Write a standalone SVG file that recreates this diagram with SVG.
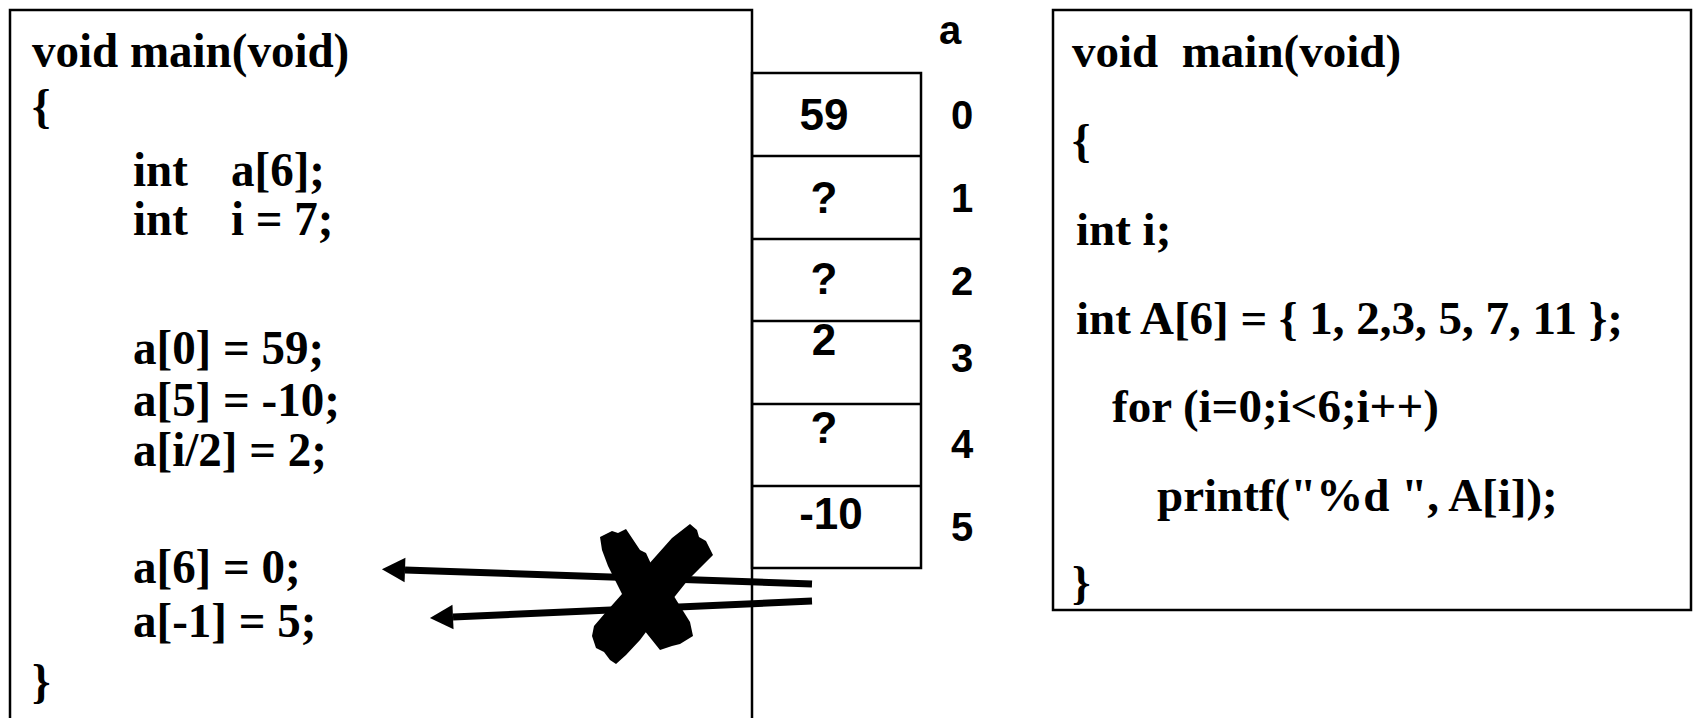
<svg xmlns="http://www.w3.org/2000/svg" width="1693" height="718" viewBox="0 0 1693 718">
<style>
.box{fill:none;stroke:#000;stroke-width:2.5}
.code{font-family:"Liberation Serif","Times New Roman",serif;font-weight:bold;font-size:47px;fill:#000}
.cell{font-family:"Liberation Sans",Arial,sans-serif;font-weight:bold;font-size:44px;fill:#000;text-anchor:middle}
.idx{font-family:"Liberation Sans",Arial,sans-serif;font-weight:bold;font-size:40px;fill:#000;text-anchor:middle}
.arr{stroke:#000;stroke-width:7;fill:none}
</style>
<defs>
<marker id="ah" markerWidth="4" markerHeight="4" refX="0" refY="2" orient="auto" markerUnits="strokeWidth" overflow="visible">
<path d="M0,0.25 L3.3,2 L0,3.75 Z" fill="#000"/>
</marker>
</defs>
<rect width="1693" height="718" fill="#fff"/>
<g id="left-code">
<rect class="box" x="10" y="10" width="742" height="730"/>
<g transform="scale(1,1.04)">
<text class="code" x="32" y="64.4">void main(void)</text>
<text class="code" x="32" y="118.3">{</text>
<text class="code" x="133" y="178.8">int</text>
<text class="code" x="231" y="178.8">a[6];</text>
<text class="code" x="133" y="225.9">int</text>
<text class="code" x="231" y="225.9">i = 7;</text>
<text class="code" x="133" y="350">a[0] = 59;</text>
<text class="code" x="133" y="400">a[5] = -10;</text>
<text class="code" x="133" y="448.1">a[i/2] = 2;</text>
<text class="code" x="133" y="560.6">a[6] = 0;</text>
<text class="code" x="133" y="612.5">a[-1] = 5;</text>
<text class="code" x="32" y="670.7">}</text>
</g>
</g>
<g id="array">
<rect class="box" x="752" y="73" width="169" height="495"/>
<line class="box" x1="752" y1="156" x2="921" y2="156"/>
<line class="box" x1="752" y1="239" x2="921" y2="239"/>
<line class="box" x1="752" y1="321" x2="921" y2="321"/>
<line class="box" x1="752" y1="404" x2="921" y2="404"/>
<line class="box" x1="752" y1="486" x2="921" y2="486"/>
<text class="cell" x="824" y="130">59</text>
<text class="cell" x="824" y="213">?</text>
<text class="cell" x="824" y="294">?</text>
<text class="cell" x="824" y="355">2</text>
<text class="cell" x="824" y="443">?</text>
<text class="cell" x="831" y="529">-10</text>
<text class="idx" x="950" y="44">a</text>
<text class="idx" x="962" y="129">0</text>
<text class="idx" x="962" y="212">1</text>
<text class="idx" x="962" y="295">2</text>
<text class="idx" x="962" y="372">3</text>
<text class="idx" x="962" y="458">4</text>
<text class="idx" x="962" y="541">5</text>
</g>
<g id="connectors">
<line class="arr" x1="812" y1="584" x2="405" y2="570" marker-end="url(#ah)"/>
<line class="arr" x1="812" y1="601" x2="453" y2="617" marker-end="url(#ah)"/>
</g>
<g id="cross">
<path d="M600,537 L612,531 L618,533 L626,529 L640,550 L646,553 L652,566 L664,580 L680,606 L690,622 L693,636 L680,644 L672,646 L660,650 L652,640 L640,625 L628,606 L620,590 L608,566 L602,550 Z" fill="#000"/>
<path d="M690,524 L697,530 L699,537 L706,541 L713,555 L700,568 L688,580 L672,600 L655,620 L640,640 L626,655 L616,664 L610,660 L604,652 L596,648 L592,636 L594,626 L606,612 L622,594 L640,574 L656,556 L672,538 Z" fill="#000"/>
</g>
<g id="right-code">
<rect class="box" x="1053" y="10" width="638" height="600"/>
<text class="code" x="1072" y="67" xml:space="preserve">void  main(void)</text>
<text class="code" x="1072" y="156">{</text>
<text class="code" x="1076" y="245">int i;</text>
<text class="code" x="1076" y="334">int A[6] = { 1, 2,3, 5, 7, 11 };</text>
<text class="code" x="1112" y="422">for (i=0;i&lt;6;i++)</text>
<text class="code" x="1157" y="511">printf("%d ", A[i]);</text>
<text class="code" x="1072" y="598">}</text>
</g>
</svg>
